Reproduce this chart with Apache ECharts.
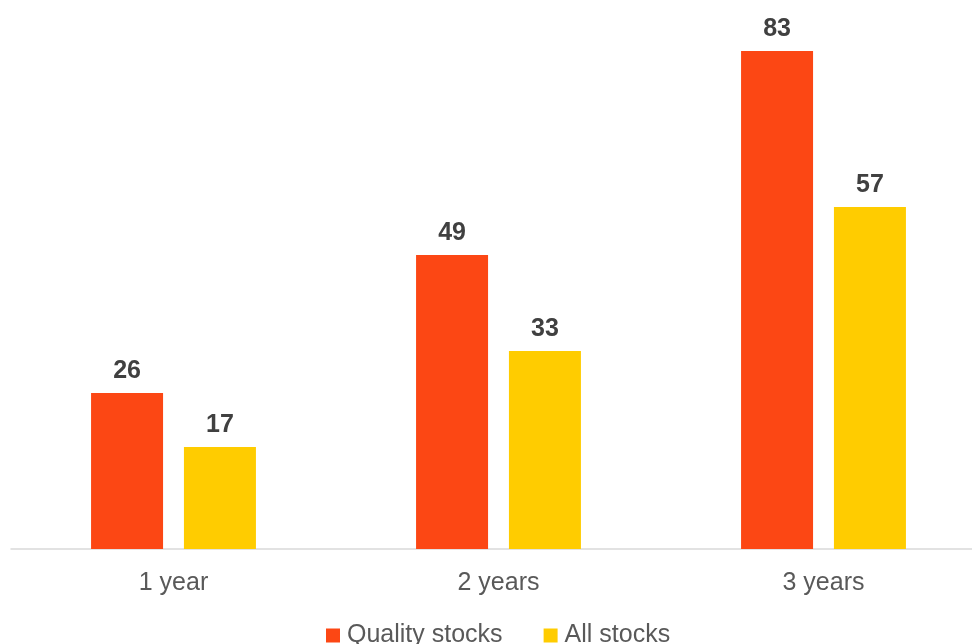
<!DOCTYPE html>
<html>
<head>
<meta charset="utf-8">
<script src="https://cdn.jsdelivr.net/npm/echarts@6/dist/echarts.min.js"></script>
<style>html,body{margin:0;padding:0;background:#fff;overflow:hidden;}#c{width:986px;height:644px;}</style>
</head>
<body>
<div id="c"></div>
<script>
const categories = ['1 year', '2 years', '3 years'];
const seriesNames = ['Quality stocks', 'All stocks'];
const qualityValues = [26, 49, 83];
const allValues = [17, 33, 57];
const colors = ['#FC4714', '#FFCC00'];

const chart = echarts.init(document.getElementById('c'), null, {renderer: 'canvas'});
const font = '"Liberation Sans", Arial, sans-serif';
const labelCfg = {
  show: true, position: 'top', distance: 9,
  fontFamily: font, fontSize: 25, fontWeight: 'bold', color: '#404040'
};
chart.setOption({
  animation: false,
  backgroundColor: '#ffffff',
  grid: {left: 11, right: 0, top: 9, bottom: 95, containLabel: false},
  legend: {
    left: 321, top: 618, itemWidth: 14, itemHeight: 14, itemGap: 41,
    icon: 'rect',
    textStyle: {fontFamily: font, fontSize: 25, color: '#595959', padding: [0, 0, 0, 2]},
    data: seriesNames
  },
  xAxis: {
    type: 'category', data: categories,
    axisLine: {lineStyle: {color: '#d9d9d9', width: 1.5}},
    axisTick: {show: false},
    axisLabel: {fontFamily: font, fontSize: 25, color: '#595959', margin: 22}
  },
  yAxis: {type: 'value', min: 0, max: 90, show: false, splitLine: {show: false}},
  series: [
    {name: seriesNames[0], type: 'bar', data: qualityValues, barWidth: 72, barGap: '29%',
     itemStyle: {color: colors[0]}, label: labelCfg},
    {name: seriesNames[1], type: 'bar', data: allValues, barWidth: 72, barGap: '29%',
     itemStyle: {color: colors[1]}, label: labelCfg}
  ]
});
</script>
</body>
</html>
